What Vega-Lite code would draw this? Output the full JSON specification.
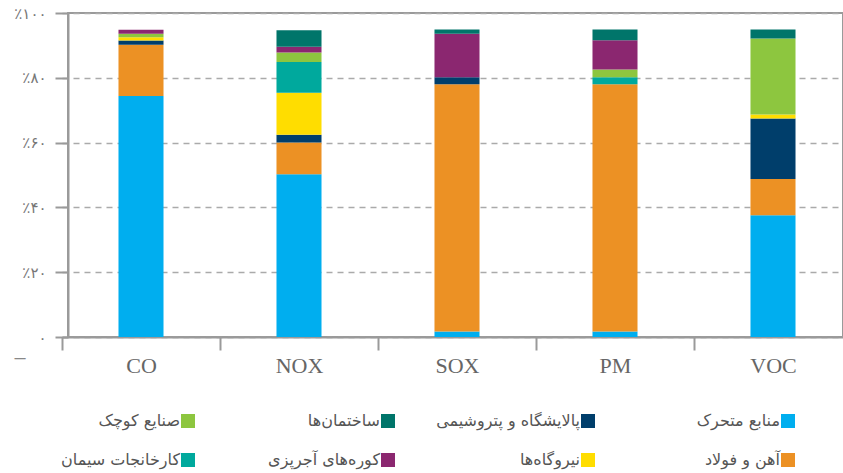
{
  "$schema": "https://vega.github.io/schema/vega-lite/v6.json",
  "width": 775,
  "height": 324,
  "autosize": {"type": "none"},
  "padding": {"left": 68, "top": 13, "right": 0, "bottom": 136},
  "background": "white",
  "config": {"view": {"stroke": "#9a9a9a", "strokeWidth": 2}},
  "data": {
    "values": [
      {"pollutant": "CO", "source": "منابع متحرک", "share": 74.4},
      {"pollutant": "CO", "source": "آهن و فولاد", "share": 15.8},
      {"pollutant": "CO", "source": "پالایشگاه و پتروشیمی", "share": 1.3},
      {"pollutant": "CO", "source": "نیروگاه\u200cها", "share": 1.0},
      {"pollutant": "CO", "source": "صنایع کوچک", "share": 1.1},
      {"pollutant": "CO", "source": "کوره\u200cهای آجرپزی", "share": 1.2},
      {"pollutant": "NOX", "source": "منابع متحرک", "share": 50.2},
      {"pollutant": "NOX", "source": "آهن و فولاد", "share": 9.8},
      {"pollutant": "NOX", "source": "پالایشگاه و پتروشیمی", "share": 2.4},
      {"pollutant": "NOX", "source": "نیروگاه\u200cها", "share": 13.0},
      {"pollutant": "NOX", "source": "کارخانجات سیمان", "share": 9.5},
      {"pollutant": "NOX", "source": "صنایع کوچک", "share": 2.9},
      {"pollutant": "NOX", "source": "کوره\u200cهای آجرپزی", "share": 1.8},
      {"pollutant": "NOX", "source": "ساختمان\u200cها", "share": 5.1},
      {"pollutant": "SOX", "source": "منابع متحرک", "share": 1.7},
      {"pollutant": "SOX", "source": "آهن و فولاد", "share": 76.3},
      {"pollutant": "SOX", "source": "پالایشگاه و پتروشیمی", "share": 2.2},
      {"pollutant": "SOX", "source": "کوره\u200cهای آجرپزی", "share": 13.4},
      {"pollutant": "SOX", "source": "ساختمان\u200cها", "share": 1.3},
      {"pollutant": "PM", "source": "منابع متحرک", "share": 1.7},
      {"pollutant": "PM", "source": "آهن و فولاد", "share": 76.3},
      {"pollutant": "PM", "source": "کارخانجات سیمان", "share": 2.2},
      {"pollutant": "PM", "source": "صنایع کوچک", "share": 2.4},
      {"pollutant": "PM", "source": "کوره\u200cهای آجرپزی", "share": 9.0},
      {"pollutant": "PM", "source": "ساختمان\u200cها", "share": 3.3},
      {"pollutant": "VOC", "source": "منابع متحرک", "share": 37.6},
      {"pollutant": "VOC", "source": "آهن و فولاد", "share": 11.2},
      {"pollutant": "VOC", "source": "پالایشگاه و پتروشیمی", "share": 18.6},
      {"pollutant": "VOC", "source": "نیروگاه\u200cها", "share": 1.3},
      {"pollutant": "VOC", "source": "صنایع کوچک", "share": 23.4},
      {"pollutant": "VOC", "source": "ساختمان\u200cها", "share": 2.8}
    ]
  },
  "transform": [
    {"calculate": "indexof(['منابع متحرک', 'آهن و فولاد', 'پالایشگاه و پتروشیمی', 'نیروگاه\u200cها', 'کارخانجات سیمان', 'صنایع کوچک', 'کوره\u200cهای آجرپزی', 'ساختمان\u200cها'], datum.source)", "as": "stackRank"}
  ],
  "mark": {"type": "bar", "width": {"band": 0.285}},
  "encoding": {
    "x": {
      "field": "pollutant",
      "type": "nominal",
      "sort": ["CO", "NOX", "SOX", "PM", "VOC"],
      "scale": {"range": [-6, 784], "paddingInner": 0, "paddingOuter": 0},
      "axis": {
        "title": "–",
        "titleX": -54,
        "titleY": 20,
        "titleAlign": "left",
        "titleBaseline": "middle",
        "titleFontSize": 20,
        "titleFontWeight": "normal",
        "titleColor": "#888",
        "tickBand": "extent",
        "tickSize": 13,
        "tickWidth": 2,
        "tickColor": "#9a9a9a",
        "domainColor": "#9a9a9a",
        "domainWidth": 2,
        "labelFont": "Liberation Serif",
        "labelFontSize": 22,
        "labelColor": "#666",
        "labelPadding": 5,
        "labelAngle": 0,
        "grid": false
      }
    },
    "y": {
      "field": "share",
      "type": "quantitative",
      "stack": "zero",
      "scale": {"domain": [0, 100], "nice": false},
      "axis": {
        "title": null,
        "values": [0, 20, 40, 60, 80, 100],
        "tickSize": 13,
        "tickWidth": 2,
        "tickColor": "#9a9a9a",
        "domainColor": "#9a9a9a",
        "domainWidth": 2,
        "labelExpr": "datum.value == 0 ? '۰' : '٪' + (datum.value == 100 ? '۱۰۰' : datum.value == 80 ? '۸۰' : datum.value == 60 ? '۶۰' : datum.value == 40 ? '۴۰' : '۲۰')",
        "labelFont": "DejaVu Sans",
        "labelFontSize": 15,
        "labelColor": "#777",
        "labelPadding": 9,
        "gridDash": [6, 5],
        "gridColor": "#aaaaaa",
        "gridWidth": 1.5
      }
    },
    "order": {"field": "stackRank", "type": "quantitative", "sort": "ascending"},
    "color": {
      "field": "source",
      "type": "nominal",
      "scale": {
        "domain": ["صنایع کوچک", "ساختمان\u200cها", "پالایشگاه و پتروشیمی", "منابع متحرک", "کارخانجات سیمان", "کوره\u200cهای آجرپزی", "نیروگاه\u200cها", "آهن و فولاد"],
        "range": ["#8DC63F", "#00756A", "#003E6B", "#00AEEF", "#00A99D", "#8B2770", "#FFDD00", "#EC9124"]
      },
      "legend": {
        "orient": "none",
        "legendX": 112,
        "legendY": 400,
        "title": null,
        "columns": 4,
        "direction": "horizontal",
        "gridAlign": "all",
        "columnPadding": 41,
        "rowPadding": 23,
        "symbolType": "square",
        "symbolSize": 196,
        "symbolStrokeWidth": 0,
        "symbolOpacity": 1,
        "labelAlign": "right",
        "labelOffset": -16,
        "labelFont": "DejaVu Sans",
        "labelFontSize": 16,
        "labelColor": "#555",
        "labelLimit": 300
      }
    }
  }
}
